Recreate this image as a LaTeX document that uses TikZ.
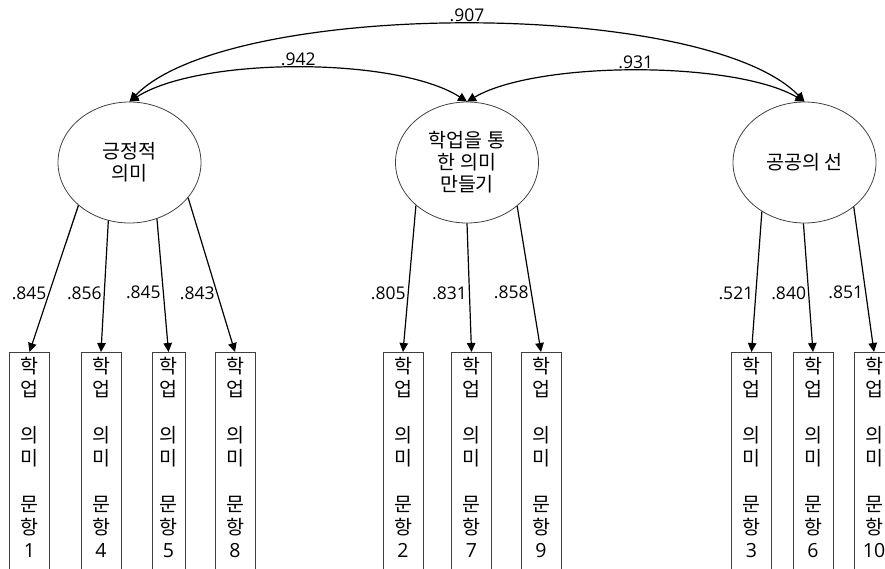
\documentclass[tikz,border=0pt]{standalone}
\usepackage{fontspec}
\setmainfont{Open Sans}
\newfontfamily\kr{Noto Sans CJK KR}
\usetikzlibrary{shapes.geometric,arrows.meta}
\begin{document}
\begin{tikzpicture}[x=1pt,y=-1pt,
  lat/.style={ellipse, draw=black!75, line width=0.8pt, minimum width=143pt, minimum height=121pt, inner sep=0pt, align=center, font=\kr\fontsize{19.5}{22}\selectfont},
  itembox/.style={draw=black!75, line width=0.8pt, anchor=north, minimum width=40pt, inner xsep=0pt, inner ysep=5pt, text depth=30pt, align=center, font=\kr\fontsize{19.5}{23}\selectfont},
  load/.style={-{Triangle[length=9pt,width=8.5pt]}, line width=1.2pt},
  cov/.style={{Triangle[length=9pt,width=9pt]}-{Triangle[length=9pt,width=9pt]}, line width=1.2pt},
  num/.style={font=\rmfamily\fontsize{17.5}{20}\selectfont, inner sep=2pt}]
\useasboundingbox (0,0) rectangle (885,568);
\clip (0,0) rectangle (885,568);
% latent variables
\node[lat] (e1) at (129.5,162.5) {긍정적\\의미};
\node[lat] (e2) at (467,162.5) {학업을 통\\한 의미\\만들기};
\node[lat] (e3) at (804.5,162.5) {공공의 선};
% items
\node[itembox] (b1) at (29.5,352) {학\\업\\\\의\\미\\\\문\\항\\{\rmfamily 1}};
\node[itembox] (b4) at (101,352) {학\\업\\\\의\\미\\\\문\\항\\{\rmfamily 4}};
\node[itembox, minimum width=33pt] (b5) at (168.5,352) {학\\업\\\\의\\미\\\\문\\항\\{\rmfamily 5}};
\node[itembox] (b8) at (235,352) {학\\업\\\\의\\미\\\\문\\항\\{\rmfamily 8}};
\node[itembox] (b2) at (403,352) {학\\업\\\\의\\미\\\\문\\항\\{\rmfamily 2}};
\node[itembox] (b7) at (471.5,352) {학\\업\\\\의\\미\\\\문\\항\\{\rmfamily 7}};
\node[itembox] (b9) at (541,352) {학\\업\\\\의\\미\\\\문\\항\\{\rmfamily 9}};
\node[itembox] (b3) at (751.5,352) {학\\업\\\\의\\미\\\\문\\항\\{\rmfamily 3}};
\node[itembox] (b6) at (813,352) {학\\업\\\\의\\미\\\\문\\항\\{\rmfamily 6}};
\node[itembox] (b10) at (874,352) {학\\업\\\\의\\미\\\\문\\항\\{\rmfamily 10}};
% loadings
\draw[load] (e1.220) -- node[pos=0.6,left,num]{.845} (b1.north);
\draw[load] (e1.250) -- node[pos=0.55,left,num]{.856} (b4.north);
\draw[load] (e1.296) -- node[pos=0.55,left,num]{.845} (b5.north);
\draw[load] (e1.329) -- node[pos=0.62,left,num]{.843} (b8.north);
\draw[load] (e2.220) -- node[pos=0.6,left,num]{.805} (b2.north);
\draw[load] (e2.270) -- node[pos=0.54,left,num]{.831} (b7.north);
\draw[load] (e2.319) -- node[pos=0.59,left,num]{.858} (b9.north);
\draw[load] (e3.229) -- node[pos=0.58,left,num]{.521} (b3.north);
\draw[load] (e3.269) -- node[pos=0.54,left,num]{.840} (b6.north);
\draw[load] (e3.318) -- node[pos=0.59,left,num]{.851} (b10.north);
% covariances
\draw[cov] (e2.north) .. controls +(-70,-45) and +(70,-45) .. (e1.north) node[midway,above,num]{.942};
\draw[cov] (e2.north) .. controls +(70,-41) and +(-70,-41) .. (e3.north) node[midway,above,num]{.931};
\draw[cov] (e1.north) .. controls +(100,-103) and +(-100,-103) .. (e3.north) node[midway,above,num]{.907};
\end{tikzpicture}
\end{document}
